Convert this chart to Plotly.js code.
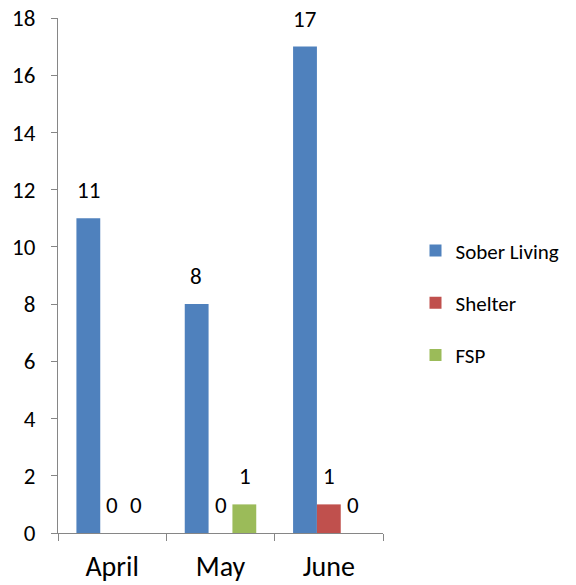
<!DOCTYPE html>
<html><head><meta charset="utf-8">
<script src="https://cdn.plot.ly/plotly-3.0.1.min.js"></script>
<style>body{margin:0}#c{width:576px;height:585px}</style>
</head><body><div id="c"></div>
<script>
const months = ["April", "May", "June"];
const soberLiving = [11, 8, 17];
const shelter = [0, 0, 1];
const fsp = [0, 1, 0];
const seriesNames = ["Sober Living", "Shelter", "FSP"];
const colors = ["#4F81BD", "#C0504D", "#9BBB59"];
const values = [soberLiving, shelter, fsp];

const font = "Carlito, Calibri, Lato, 'Open Sans', sans-serif";
const W = 576, H = 585, ml = 58, mr = 190, mt = 18, mb = 52, bargap = 0.34;
const barPx = (W - ml - mr) / months.length * (1 - bargap) / values.length;

const traces = values.map((v, i) => ({
  type: "bar", x: months, y: v, name: seriesNames[i], legendgroup: "g" + i,
  marker: {color: colors[i]}, hoverinfo: "none"
}));
const annotations = [];
values.forEach((v, i) => v.forEach((val, j) => annotations.push({
  x: months[j], y: val, xref: "x", yref: "y", text: String(val), showarrow: false,
  xshift: (i - 1) * barPx, yshift: 12, yanchor: "bottom",
  font: {size: 23, family: font, color: "#000"}
})));
const layout = {
  width: W, height: H,
  margin: {l: ml, r: mr, t: mt, b: mb},
  barmode: "group", bargap: bargap, bargroupgap: 0,
  paper_bgcolor: "#fff", plot_bgcolor: "#fff",
  font: {family: font, color: "#000"},
  showlegend: true, annotations: annotations,
  legend: {x: 1.10, y: 0.447, yanchor: "middle", xanchor: "left",
    font: {size: 21, family: font}, tracegroupgap: 22, itemwidth: 30},
  xaxis: {type: "category", tickson: "boundaries", ticks: "outside", ticklen: 7,
    tickcolor: "#868686", showline: true, linecolor: "#868686", linewidth: 1,
    tickfont: {size: 28, family: font}, showgrid: false, zeroline: false,
    ticklabelstandoff: 8},
  yaxis: {range: [0, 18], dtick: 2, ticks: "outside", ticklen: 6, tickcolor: "#868686",
    showline: true, linecolor: "#868686", linewidth: 1, showgrid: false, zeroline: false,
    tickfont: {size: 23, family: font}, ticklabelstandoff: 11}
};
Plotly.newPlot("c", traces, layout, {staticPlot: true});
</script></body></html>
